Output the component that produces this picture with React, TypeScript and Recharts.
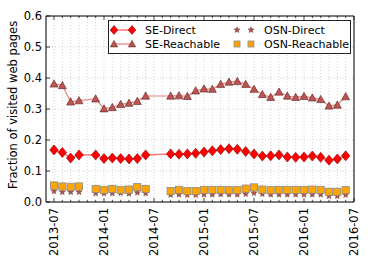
import React from "react";
import { ComposedChart, Line, XAxis, YAxis, CartesianGrid } from "recharts";

const months = [
  "2013-07", "2013-08", "2013-09", "2013-10", "2013-12",
  "2014-01", "2014-02", "2014-03", "2014-04", "2014-05", "2014-06",
  "2014-09", "2014-10", "2014-11", "2014-12",
  "2015-01", "2015-02", "2015-03", "2015-04", "2015-05", "2015-06",
  "2015-07", "2015-08", "2015-09", "2015-10", "2015-11", "2015-12",
  "2016-01", "2016-02", "2016-03", "2016-04", "2016-05", "2016-06",
];

const seDirect = [
  0.168, 0.16, 0.142, 0.152, 0.152,
  0.14, 0.142, 0.14, 0.139, 0.14, 0.152,
  0.155, 0.154, 0.155, 0.157,
  0.161, 0.165, 0.169, 0.172, 0.17, 0.163,
  0.155, 0.148, 0.149, 0.152, 0.145, 0.144,
  0.145, 0.148, 0.144, 0.135, 0.139, 0.149,
];

const seReachable = [
  0.381, 0.376, 0.323, 0.327, 0.333,
  0.301, 0.305, 0.315, 0.319, 0.325, 0.342,
  0.342, 0.343, 0.341, 0.359,
  0.365, 0.364, 0.38, 0.387, 0.389, 0.38,
  0.364, 0.347, 0.338, 0.355, 0.342, 0.338,
  0.341, 0.336, 0.331, 0.31, 0.313, 0.34,
];

const osnDirect = [
  0.035, 0.032, 0.032, 0.032, 0.028,
  0.028, 0.028, 0.029, 0.027, 0.03, 0.028,
  0.023, 0.024, 0.023, 0.023,
  0.024, 0.024, 0.025, 0.024, 0.024, 0.026,
  0.029, 0.026, 0.024, 0.024, 0.024, 0.024,
  0.024, 0.024, 0.024, 0.019, 0.019, 0.023,
];

const osnReachable = [
  0.053, 0.05, 0.049, 0.05, 0.042,
  0.039, 0.042, 0.039, 0.04, 0.048, 0.042,
  0.035, 0.039, 0.035, 0.035,
  0.039, 0.039, 0.039, 0.038, 0.038, 0.043,
  0.047, 0.04, 0.038, 0.039, 0.039, 0.039,
  0.039, 0.04, 0.039, 0.033, 0.033, 0.038,
];

const xTickLabels = ["2013-07", "2014-01", "2014-07", "2015-01", "2015-07", "2016-01", "2016-07"];
const yTicks = [0, 0.1, 0.2, 0.3, 0.4, 0.5, 0.6];

// months since 2013-07
const monthIndex = (s: string) => {
  const [y, m] = s.split("-").map(Number);
  return (y - 2013) * 12 + (m - 7);
};

const xTicks = xTickLabels.map(monthIndex);
const minorTicks = Array.from({ length: 37 }, (_, i) => i);

const data = months.map((m, i) => ({
  m: monthIndex(m),
  seDirect: seDirect[i],
  seReachable: seReachable[i],
  osnDirect: osnDirect[i],
  osnReachable: osnReachable[i],
}));

const FONT = "'DejaVu Sans', sans-serif";
const X_DOMAIN: [number, number] = [-0.96, 36];

const C = {
  diamond: "#ff0000",
  diamondEdge: "#8b0000",
  seLine: "#ff7777",
  tri: "#bd5450",
  triEdge: "#5e2020",
  reachLine: "#e38080",
  star: "#b5524c",
  starEdge: "#5a2a20",
  square: "#ffa500",
  squareEdge: "#8a8a8a",
};

function Diamond({ cx, cy, r = 5 }: { cx: number; cy: number; r?: number }) {
  return (
    <polygon
      points={`${cx},${cy - r} ${cx + r * 0.85},${cy} ${cx},${cy + r} ${cx - r * 0.85},${cy}`}
      fill={C.diamond}
      stroke={C.diamondEdge}
      strokeWidth={0.6}
    />
  );
}

function Triangle({ cx, cy, r = 4 }: { cx: number; cy: number; r?: number }) {
  return (
    <polygon
      points={`${cx},${cy - r} ${cx + r},${cy + r * 0.8} ${cx - r},${cy + r * 0.8}`}
      fill={C.tri}
      stroke={C.triEdge}
      strokeWidth={0.6}
    />
  );
}

function Star({ cx, cy, r = 3.2 }: { cx: number; cy: number; r?: number }) {
  const pts: string[] = [];
  for (let k = 0; k < 10; k++) {
    const rr = k % 2 === 0 ? r : r * 0.45;
    const a = -Math.PI / 2 + (k * Math.PI) / 5;
    pts.push(`${cx + rr * Math.cos(a)},${cy + rr * Math.sin(a)}`);
  }
  return <polygon points={pts.join(" ")} fill={C.star} stroke={C.starEdge} strokeWidth={0.4} />;
}

function Square({ cx, cy, s = 3.6 }: { cx: number; cy: number; s?: number }) {
  return (
    <rect x={cx - s} y={cy - s} width={s * 2} height={s * 2} fill={C.square} stroke={C.squareEdge} strokeWidth={0.8} />
  );
}

const dotFn = (Shape: React.FC<{ cx: number; cy: number }>) => (p: any) =>
  p.cx == null || p.cy == null ? <g key={p.index} /> : <Shape key={p.index} cx={p.cx} cy={p.cy} />;

const LeftTick = (p: any) => (
  <g>
    <line x1={p.x} x2={p.x + 4} y1={p.y} y2={p.y} stroke="#000" strokeWidth={0.8} />
    <text x={p.x - 4} y={p.y + 4} textAnchor="end" fontSize={11.5} fontFamily={FONT} fill="#000">
      {Number(p.payload.value).toFixed(1)}
    </text>
  </g>
);

const RightTick = (p: any) => (
  <line x1={p.x - 4} x2={p.x} y1={p.y} y2={p.y} stroke="#000" strokeWidth={0.8} />
);

// bottom axis: monthly minor ticks, labels on the half-year ones
const BottomTick = (p: any) => {
  const i = xTicks.indexOf(p.payload.value);
  const major = i >= 0;
  return (
    <g>
      <line x1={p.x} x2={p.x} y1={p.y - (major ? 4 : 2)} y2={p.y} stroke="#000" strokeWidth={0.7} />
      {major && (
        <text
          transform={`translate(${p.x + 4}, ${p.y + 6}) rotate(-90)`}
          textAnchor="end"
          fontSize={11.5}
          fontFamily={FONT}
          fill="#000"
        >
          {xTickLabels[i]}
        </text>
      )}
    </g>
  );
};

const TopTick = (p: any) => {
  const major = xTicks.includes(p.payload.value);
  return <line x1={p.x} x2={p.x} y1={p.y} y2={p.y + (major ? 4 : 2)} stroke="#000" strokeWidth={0.7} />;
};

function LegendBox() {
  const text = { fontSize: 11, fontFamily: FONT, fill: "#000" };
  return (
    <svg width={243} height={34} style={{ position: "absolute", left: 108, top: 20 }}>
      <rect x={0.5} y={0.5} width={242} height={33} fill="#fff" stroke="#222" strokeWidth={1} />
      <line x1={5} x2={25} y1={10} y2={10} stroke={C.seLine} strokeWidth={1.5} />
      <Diamond cx={6} cy={10} r={4.5} />
      <Diamond cx={24} cy={10} r={4.5} />
      <text x={37} y={14} {...text}>SE-Direct</text>
      <line x1={6} x2={24} y1={24} y2={24} stroke={C.reachLine} strokeWidth={1.2} />
      <Triangle cx={6} cy={24} r={3.6} />
      <Triangle cx={24} cy={24} r={3.6} />
      <text x={37} y={28} {...text}>SE-Reachable</text>
      <Star cx={129} cy={10} />
      <Star cx={143} cy={10} />
      <text x={156} y={14} {...text}>OSN-Direct</text>
      <Square cx={129} cy={24} s={3} />
      <Square cx={143} cy={24} s={3} />
      <text x={156} y={28} {...text}>OSN-Reachable</text>
    </svg>
  );
}

export default function App() {
  return (
    <div style={{ position: "absolute", left: 0, top: 0, width: 374, height: 262, background: "#fff" }}>
      <ComposedChart width={374} height={262} data={data} margin={{ top: 0, right: 0, bottom: 0, left: 0 }}>
        <CartesianGrid xAxisId="top" stroke="#c8c8c8" strokeDasharray="1 2" strokeWidth={0.8} />
        <XAxis
          dataKey="m"
          type="number"
          domain={X_DOMAIN}
          ticks={minorTicks}
          allowDataOverflow
          height={60}
          tickSize={0}
          tickMargin={0}
          tickLine={false}
          axisLine={{ stroke: "#000", strokeWidth: 1 }}
          tick={BottomTick}
          interval={0}
        />
        <XAxis
          xAxisId="top"
          orientation="top"
          dataKey="m"
          type="number"
          domain={X_DOMAIN}
          ticks={minorTicks}
          allowDataOverflow
          height={16}
          tickSize={0}
          tickMargin={0}
          tickLine={false}
          axisLine={{ stroke: "#000", strokeWidth: 1 }}
          tick={TopTick}
          interval={0}
        />
        <YAxis
          type="number"
          domain={[0, 0.6]}
          ticks={yTicks}
          width={46}
          tickSize={0}
          tickMargin={0}
          tickLine={false}
          axisLine={{ stroke: "#000", strokeWidth: 1 }}
          tick={LeftTick}
          interval={0}
          label={{
            value: "Fraction of visited web pages",
            angle: -90,
            position: "insideLeft",
            dx: 8,
            dy: 80,
            style: { fontSize: 11.5, fontFamily: FONT, fill: "#000" },
          }}
        />
        <YAxis
          yAxisId="right"
          orientation="right"
          type="number"
          domain={[0, 0.6]}
          ticks={yTicks}
          width={20}
          tickSize={0}
          tickMargin={0}
          tickLine={false}
          axisLine={{ stroke: "#000", strokeWidth: 1 }}
          tick={RightTick}
          interval={0}
        />
        <Line
          dataKey="seDirect"
          type="linear"
          stroke={C.seLine}
          strokeWidth={1.5}
          dot={dotFn(Diamond)}
          activeDot={false}
          isAnimationActive={false}
        />
        <Line
          dataKey="seReachable"
          type="linear"
          stroke={C.reachLine}
          strokeWidth={1.2}
          dot={dotFn(Triangle)}
          activeDot={false}
          isAnimationActive={false}
        />
        <Line
          dataKey="osnDirect"
          type="linear"
          stroke="none"
          dot={dotFn(Star)}
          activeDot={false}
          isAnimationActive={false}
        />
        <Line
          dataKey="osnReachable"
          type="linear"
          stroke="none"
          dot={dotFn(Square)}
          activeDot={false}
          isAnimationActive={false}
        />
      </ComposedChart>
      <LegendBox />
    </div>
  );
}
